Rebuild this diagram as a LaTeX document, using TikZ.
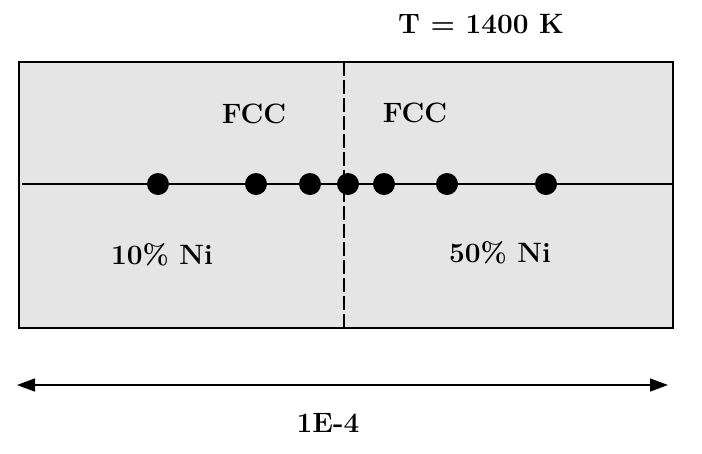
\documentclass[tikz,border=0pt]{standalone}
\usepackage{tikz}
\usetikzlibrary{arrows.meta}
\usetikzlibrary{calc}

\tikzset{
  lbl/.style={font=\fontsize{28}{32}\selectfont\bfseries, inner sep=0pt},
  atom/.style={fill=black}
}

\begin{document}
\begin{tikzpicture}[x=1pt, y=-1pt]
    \newcommand\ymid{184}
    \newcommand\xsplit{344}
    \newcommand\rdot{11}

    \useasboundingbox (0, 0) rectangle (702, 453);

    \draw [line width=1.6pt, fill=black!10] (19, 62) rectangle (673, 328);
    \draw [line width=1.2pt] (22, \ymid) -- (673, \ymid);
    \draw [line width=1.5pt, dash pattern=on 14pt off 4pt]
    (\xsplit, 62) -- (\xsplit, 328);

    \fill [atom] (158, \ymid) circle (\rdot);
    \fill [atom] (256, \ymid) circle (\rdot);
    \fill [atom] (310, \ymid) circle (\rdot);
    \fill [atom] (348, \ymid) circle (\rdot);
    \fill [atom] (384, \ymid) circle (\rdot);
    \fill [atom] (447, \ymid) circle (\rdot);
    \fill [atom] (546, \ymid) circle (\rdot);

    \node [lbl] (temp) at (481, 24) {T = 1400 K};
    \node [lbl] (fccleft) at (254, 114) {FCC};
    \node [lbl] (fccright) at (415, 113) {FCC};
    \node [lbl] (nileft) at (162, 255) {10\% Ni};
    \node [lbl] (niright) at (500, 253) {50\% Ni};

    \coordinate (lenleft) at (17, 385);
    \coordinate (lenright) at (668, 385);
    \draw [line width=1.5pt, {Triangle[length=18pt, width=13pt]}-{Triangle[length=18pt, width=13pt]}]
    (lenleft) -- (lenright);
    \node [lbl] (len) at (328, 423) {1E-4};

  \end{tikzpicture}
\end{document}
